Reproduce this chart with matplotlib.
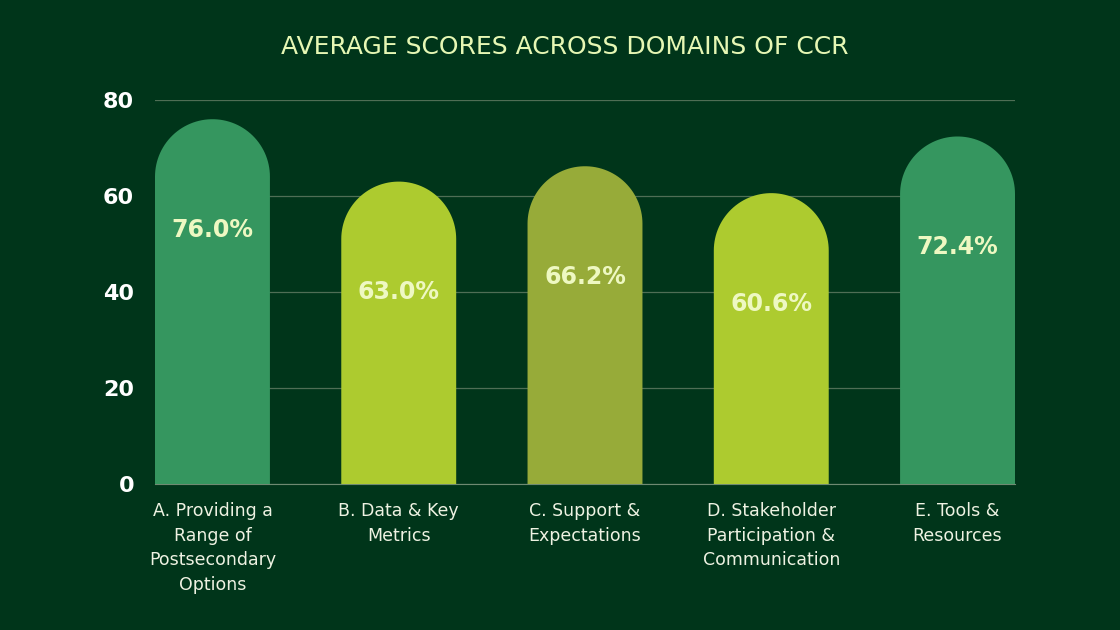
import matplotlib.pyplot as plt
import numpy as np
from matplotlib.patches import Polygon

categories = ['A. Providing a\nRange of\nPostsecondary\nOptions', 'B. Data & Key\nMetrics',
              'C. Support &\nExpectations', 'D. Stakeholder\nParticipation &\nCommunication',
              'E. Tools &\nResources']
scores = [76.0, 63.0, 66.2, 60.6, 72.4]
bar_colors = ['#35965F', '#ADCB2F', '#97AB39', '#ADCB2F', '#35965F']
yticks = [0, 20, 40, 60, 80]

bg = '#00351A'
fig = plt.figure(figsize=(11.2, 6.3), dpi=100, facecolor=bg)
ax = fig.add_axes([155 / 1120, 1 - 484 / 630, 860 / 1120, 384 / 630])
ax.set_facecolor(bg)

w = 0.617
ax.set_xlim(-w / 2, len(scores) - 1 + w / 2)
ax.set_ylim(0, 80)

# radius of the rounded top: half the bar width, converted to y data units
px_per_x = 860 / (len(scores) - 1 + w)
px_per_y = 384 / 80
rx = w / 2
ry = rx * px_per_x / px_per_y

t = np.linspace(0, np.pi, 60)
for i, (v, c) in enumerate(zip(scores, bar_colors)):
    top = v - ry
    xs = np.concatenate([[i - rx], i - rx * np.cos(t), [i + rx]])
    ys = np.concatenate([[0], top + ry * np.sin(t), [0]])
    ax.add_patch(Polygon(np.column_stack([xs, ys]), closed=True, color=c, lw=0, zorder=3))
    ax.text(i, v - 23, f'{v:.1f}%', ha='center', va='center', fontsize=17,
            fontweight='bold', color='#EEF8C2', zorder=4)

ax.set_yticks(yticks)
ax.set_yticklabels([str(y) for y in yticks], fontsize=16, fontweight='bold', color='white')
ax.set_xticks(range(len(categories)))
ax.set_xticklabels(categories, fontsize=12.5, color='#EEF2E2', linespacing=1.48, va='top')
ax.tick_params(axis='both', length=0)
ax.tick_params(axis='y', pad=15)
ax.tick_params(axis='x', pad=13)

ax.grid(axis='y', color='#4F6E55', lw=0.9, zorder=1)
for s in ['top', 'right', 'left']:
    ax.spines[s].set_visible(False)
ax.spines['bottom'].set_color('#6F8A72')
ax.spines['bottom'].set_zorder(2)

fig.text(565 / 1120, 1 - 47 / 630, 'AVERAGE SCORES ACROSS DOMAINS OF CCR', ha='center', va='center',
         fontsize=18, color='#E6F7B4')

fig.savefig('out.png', dpi=100, facecolor=bg)
